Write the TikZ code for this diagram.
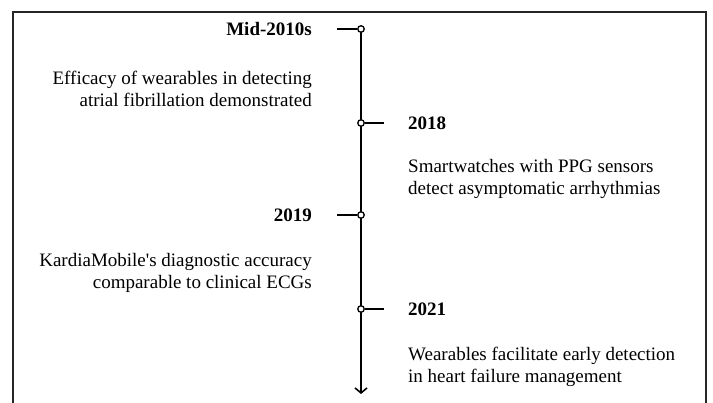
\documentclass[tikz,border=0pt]{standalone}
\usepackage{fontspec}
\setmainfont{Liberation Serif}
\usetikzlibrary{arrows.meta}
\begin{document}
\begin{tikzpicture}[x=1pt,y=-1pt,
  axis/.style={line width=1.6pt,-{Straight Barb[length=5pt,width=12pt,line width=1.6pt]}},
  tick/.style={line width=1.6pt},
  dot/.style={circle,draw,line width=1.3pt,fill=white,inner sep=0pt,minimum size=6.5pt},
  year/.style={font=\fontsize{19}{22}\selectfont\bfseries,inner sep=0pt},
  descl/.style={font=\fontsize{19}{22}\selectfont,align=right,inner sep=0pt},
  descr/.style={font=\fontsize{19}{22}\selectfont,align=left,inner sep=0pt},
  frame/.style={line width=1.6pt,draw=black!85}]
\useasboundingbox (0,0) rectangle (713,403);
\draw[frame] (13,403) -- (13,12) -- (706,12) -- (706,403);
\coordinate (top) at (361,29);
\coordinate (bot) at (361,394);
\draw[axis] (top) -- (bot);
% events
\node[dot] (d1) at (361,29) {};
\node[dot] (d2) at (361,123) {};
\node[dot] (d3) at (361,215) {};
\node[dot] (d4) at (361,309) {};
\coordinate (t1) at (337,29);
\coordinate (t2) at (384,123);
\coordinate (t3) at (337,215);
\coordinate (t4) at (384,309);
\draw[tick] (t1) -- (d1.west);
\draw[tick] (d2.east) -- (t2);
\draw[tick] (t3) -- (d3.west);
\draw[tick] (d4.east) -- (t4);
\node[year,anchor=east] (y1) at (312,29) {Mid-2010s};
\node[year,anchor=west] (y2) at (408,123) {2018};
\node[year,anchor=east] (y3) at (312,215) {2019};
\node[year,anchor=west] (y4) at (408,309) {2021};
\node[descl,anchor=east] (e1) at (312,89) {Efficacy of wearables in detecting\\atrial fibrillation demonstrated};
\node[descr,anchor=west] (e2) at (408,179) {Smartwatches with PPG sensors\\detect asymptomatic arrhythmias};
\node[descl,anchor=east] (e3) at (312,273) {KardiaMobile\textquotesingle s diagnostic accuracy\\comparable to clinical ECGs};
\node[descr,anchor=west] (e4) at (408,367) {Wearables facilitate early detection\\in heart failure management};
\end{tikzpicture}
\end{document}
